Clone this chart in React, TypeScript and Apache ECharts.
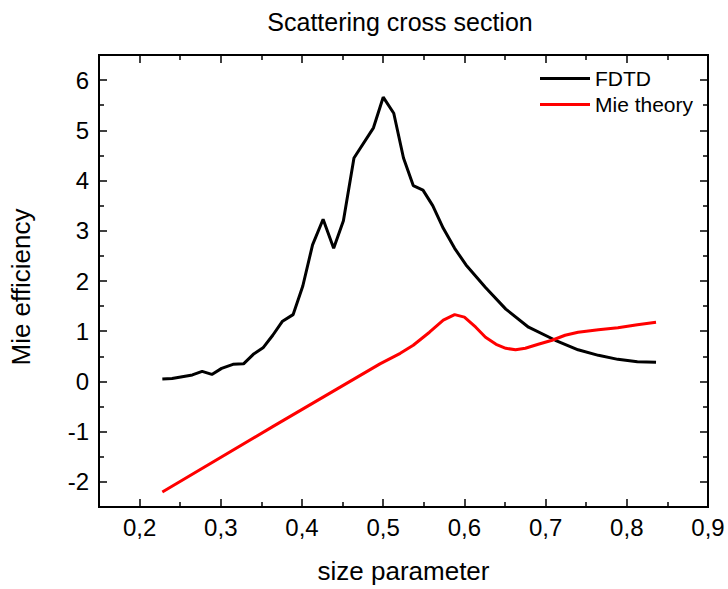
import React, { useEffect, useRef } from "react";
import * as echarts from "echarts";

const fdtdX = [0.228, 0.240, 0.265, 0.277, 0.289, 0.301, 0.315, 0.328, 0.340, 0.352, 0.364, 0.376, 0.389, 0.401, 0.413, 0.426, 0.439, 0.451, 0.464, 0.488, 0.500, 0.513, 0.525, 0.537, 0.549, 0.561, 0.574, 0.588, 0.602, 0.626, 0.651, 0.679, 0.712, 0.740, 0.765, 0.789, 0.813, 0.836];
const fdtdY = [0.05, 0.06, 0.13, 0.2, 0.14, 0.26, 0.34, 0.35, 0.54, 0.67, 0.92, 1.2, 1.33, 1.9, 2.72, 3.23, 2.65, 3.2, 4.45, 5.05, 5.66, 5.34, 4.45, 3.9, 3.81, 3.5, 3.05, 2.65, 2.32, 1.87, 1.44, 1.08, 0.82, 0.63, 0.52, 0.44, 0.39, 0.38];

const mieX = [0.228, 0.366, 0.496, 0.521, 0.537, 0.557, 0.574, 0.588, 0.600, 0.614, 0.626, 0.639, 0.651, 0.663, 0.675, 0.691, 0.708, 0.724, 0.740, 0.765, 0.789, 0.813, 0.836];
const mieY = [-2.2, -0.88, 0.35, 0.56, 0.72, 0.98, 1.22, 1.33, 1.28, 1.08, 0.88, 0.74, 0.66, 0.63, 0.66, 0.74, 0.82, 0.92, 0.98, 1.03, 1.07, 1.13, 1.18];

const xMajor = [0.2, 0.3, 0.4, 0.5, 0.6, 0.7, 0.8, 0.9];
const xMinor = [0.25, 0.35, 0.45, 0.55, 0.65, 0.75, 0.85];
const yMajor = [-2, -1, 0, 1, 2, 3, 4, 5, 6];
const yMinor = [-1.5, -0.5, 0.5, 1.5, 2.5, 3.5, 4.5, 5.5];

const FONT = "'Liberation Sans', Arial, sans-serif";

const isStep = (v: number, step: number) => Math.abs(v / step - Math.round(v / step)) < 1e-6;

export default function App() {
  const ref = useRef<HTMLDivElement>(null);
  useEffect(() => {
    const chart = echarts.init(ref.current!, null, { renderer: "svg" });
    const xBase = {
      type: "value",
      min: 0.15,
      max: 0.9,
      interval: 0.05,
      splitLine: { show: false },
    };
    const yBase = {
      type: "value",
      min: -2.5,
      max: 6.5,
      interval: 0.5,
      splitLine: { show: false },
    };
    const lineOff = () => ({ show: false, onZero: false });
    const tick = (vals: number[], len: number) => ({
      show: true,
      inside: true,
      length: len,
      customValues: vals,
      lineStyle: { color: "#000", width: 1.5 },
    });
    const noLabel = () => ({ show: false });
    const richT = { t: { fontFamily: FONT, fontSize: 24, color: "#000" } };
    chart.setOption({
      animation: false,
      title: {
        text: "Scattering cross section",
        left: 395,
        textAlign: "center",
        top: 4,
        textStyle: { fontFamily: FONT, fontSize: 25, fontWeight: "normal", color: "#000" },
      },
      legend: {
        orient: "vertical",
        left: 540,
        top: 68,
        padding: 0,
        icon: "rect",
        itemWidth: 50,
        itemHeight: 3,
        itemGap: 5,
        textStyle: { fontFamily: FONT, fontSize: 21, color: "#000" },
        data: ["FDTD", "Mie theory"],
      },
      grid: {
        left: 96,
        right: 20,
        top: 55,
        bottom: 77,
        containLabel: false,
        show: true,
        borderColor: "#000",
        borderWidth: 2,
        backgroundColor: "transparent",
      },
      xAxis: [
        {
          ...xBase,
          position: "bottom",
          axisLine: lineOff(),
          axisTick: tick(xMajor, 8),
          axisLabel: {
            showMinLabel: true,
            showMaxLabel: true,
            formatter: (v: number) => (isStep(v, 0.1) ? "{t|" + v.toFixed(1).replace(".", ",") + "}" : ""),
            rich: richT,
            fontFamily: FONT,
            fontSize: 24,
            color: "#000",
            margin: 8,
            hideOverlap: false,
          },
          name: "size parameter",
          nameLocation: "middle",
          nameGap: 51,
          nameTextStyle: { fontFamily: FONT, fontSize: 26, color: "#000" },
        },
        { ...xBase, position: "bottom", axisLine: lineOff(), axisTick: tick(xMinor, 5), axisLabel: noLabel() },
        { ...xBase, position: "top", axisLine: lineOff(), axisTick: tick(xMajor, 8), axisLabel: noLabel() },
        { ...xBase, position: "top", axisLine: lineOff(), axisTick: tick(xMinor, 5), axisLabel: noLabel() },
      ],
      yAxis: [
        {
          ...yBase,
          position: "left",
          axisLine: lineOff(),
          axisTick: tick(yMajor, 8),
          axisLabel: {
            formatter: (v: number) => (isStep(v, 1) ? "{t|" + String(Math.round(v)) + "}" : ""),
            rich: richT,
            fontFamily: FONT,
            fontSize: 24,
            color: "#000",
            margin: 10,
            hideOverlap: false,
          },
          name: "Mie efficiency",
          nameLocation: "middle",
          nameGap: 65,
          nameRotate: 90,
          nameTextStyle: { fontFamily: FONT, fontSize: 26, color: "#000", padding: [0, 12, 0, 0] },
        },
        { ...yBase, position: "left", axisLine: lineOff(), axisTick: tick(yMinor, 5), axisLabel: noLabel() },
        { ...yBase, position: "right", axisLine: lineOff(), axisTick: tick(yMajor, 8), axisLabel: noLabel() },
        { ...yBase, position: "right", axisLine: lineOff(), axisTick: tick(yMinor, 5), axisLabel: noLabel() },
      ],
      series: [
        {
          name: "FDTD",
          type: "line",
          xAxisIndex: 0,
          yAxisIndex: 0,
          symbol: "none",
          lineStyle: { color: "#000", width: 3 },
          itemStyle: { color: "#000" },
          data: fdtdX.map((x, i) => [x, fdtdY[i]]),
        },
        {
          name: "Mie theory",
          type: "line",
          xAxisIndex: 0,
          yAxisIndex: 0,
          symbol: "none",
          lineStyle: { color: "#ff0000", width: 3 },
          itemStyle: { color: "#ff0000" },
          data: mieX.map((x, i) => [x, mieY[i]]),
        },
      ],
    });
    return () => chart.dispose();
  }, []);
  return <div ref={ref} style={{ width: 728, height: 589, position: "absolute", left: 0, top: 0 }} />;
}
